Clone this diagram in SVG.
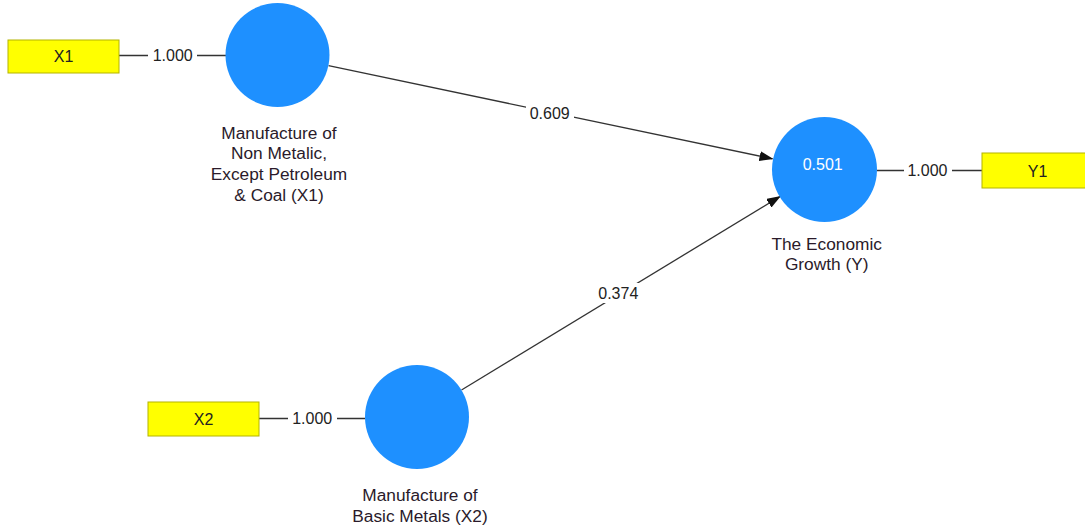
<svg xmlns="http://www.w3.org/2000/svg" width="1085" height="525" viewBox="0 0 1085 525">
  <style>
    .ind rect { fill: #ffff00; stroke: #b4b400; stroke-width: 1; }
    .ind text { font-family: "Liberation Sans", Arial, sans-serif; font-size: 16px; fill: #222; text-anchor: middle; }
    .lv circle { fill: #1e90ff; }
    .lbl { font-family: "Liberation Sans", Arial, sans-serif; font-size: 17.3px; fill: #2a1a2a; text-anchor: middle; }
    .num { font-family: "Liberation Sans", Arial, sans-serif; font-size: 16px; fill: #222; text-anchor: middle; }
    .conn line { stroke: #333; stroke-width: 1.3; fill: none; }
    .bg { fill: #fff; }
  </style>
  <defs>
    <marker id="arr" markerWidth="14" markerHeight="10" refX="13" refY="5" orient="auto" markerUnits="userSpaceOnUse">
      <path d="M0,0 L14,5 L0,10 Z" fill="#111"/>
    </marker>
  </defs>
  <rect width="1085" height="525" fill="#fff"/>

  <g id="connectors" class="conn">
    <line x1="119" y1="55.5" x2="226" y2="55.5"/>
    <line x1="259" y1="418.5" x2="365" y2="418.5"/>
    <line x1="877" y1="170.5" x2="982" y2="170.5"/>
    <line x1="328.5" y1="65.7" x2="772.5" y2="158.8" marker-end="url(#arr)"/>
    <line x1="461.5" y1="390" x2="780" y2="196.5" marker-end="url(#arr)"/>
    <rect class="bg" x="148" y="46" width="49" height="19"/>
    <rect class="bg" x="288" y="409" width="49" height="19"/>
    <rect class="bg" x="904" y="161" width="48" height="19"/>
    <rect class="bg" x="526" y="103" width="48" height="20"/>
    <rect class="bg" x="595" y="283" width="47" height="20"/>
    <text class="num" x="172.7" y="61.4">1.000</text>
    <text class="num" x="312.2" y="424">1.000</text>
    <text class="num" x="927.5" y="176.4">1.000</text>
    <text class="num" x="549.7" y="119">0.609</text>
    <text class="num" x="618.3" y="299">0.374</text>
  </g>

  <g id="X1" class="ind">
    <rect x="8" y="40" width="111" height="33"/>
    <text x="63.5" y="62.3">X1</text>
  </g>
  <g id="X2" class="ind">
    <rect x="148" y="402" width="111" height="34"/>
    <text x="203.5" y="424.8">X2</text>
  </g>
  <g id="Y1" class="ind">
    <rect x="982" y="153" width="111" height="35"/>
    <text x="1037.5" y="176.8">Y1</text>
  </g>

  <g id="LV_X1" class="lv">
    <circle cx="277.5" cy="55" r="52"/>
    <text class="lbl" x="279" y="138.5">Manufacture of</text>
    <text class="lbl" x="279" y="159.3">Non Metalic,</text>
    <text class="lbl" x="279" y="180.1">Except Petroleum</text>
    <text class="lbl" x="279" y="200.9">&amp; Coal (X1)</text>
  </g>
  <g id="LV_X2" class="lv">
    <circle cx="417" cy="417" r="52"/>
    <text class="lbl" x="420" y="501">Manufacture of</text>
    <text class="lbl" x="420" y="521.5">Basic Metals (X2)</text>
  </g>
  <g id="LV_Y" class="lv">
    <circle cx="824.5" cy="169.5" r="52.5"/>
    <text class="num" x="822.7" y="169.7" style="fill:#fff">0.501</text>
    <text class="lbl" x="826.7" y="249.5">The Economic</text>
    <text class="lbl" x="826.7" y="269.8">Growth (Y)</text>
  </g>
</svg>
